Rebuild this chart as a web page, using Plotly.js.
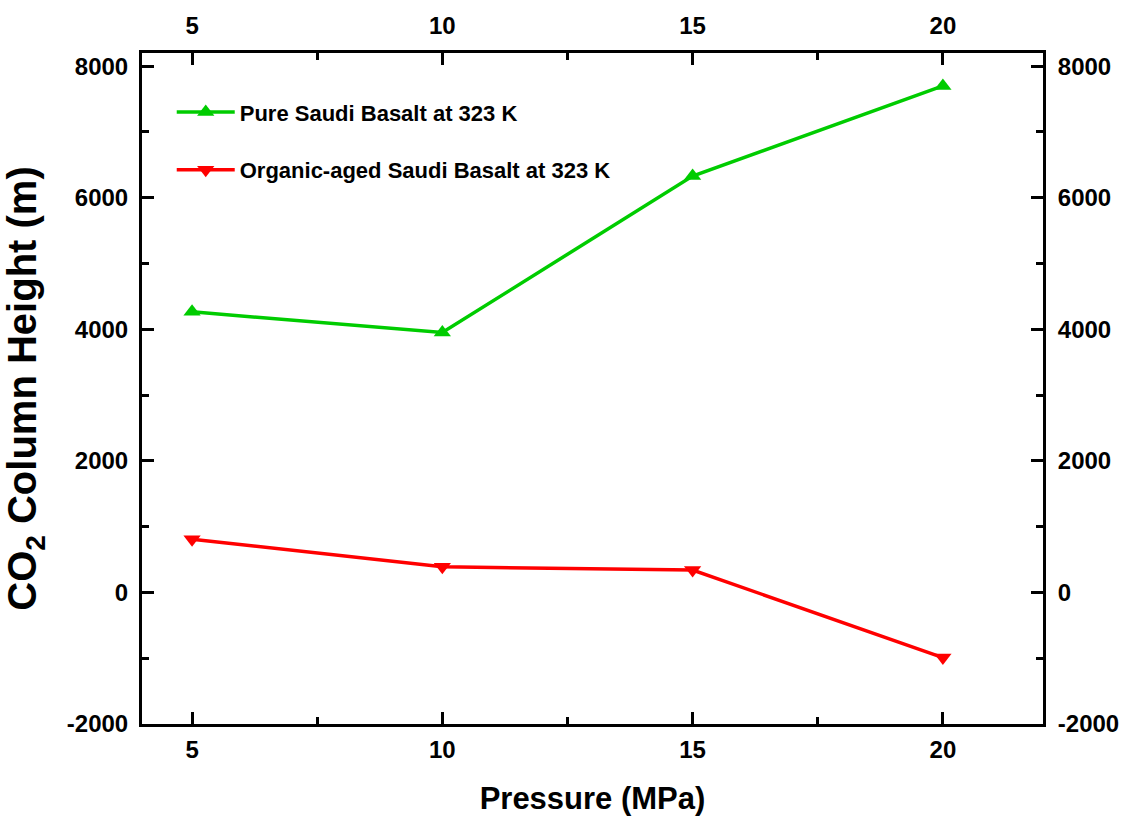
<!DOCTYPE html>
<html>
<head>
<meta charset="utf-8">
<script src="https://cdn.plot.ly/plotly-3.0.1.min.js"></script>
<style>html,body{margin:0;padding:0;background:#fff}#chart{width:1121px;height:816px}</style>
</head>
<body>
<div id="chart"></div>
<script>
const pressure = [5, 10, 15, 20];
const pureBasalt = [4265, 3950, 6330, 7700];
const organicBasalt = [810, 390, 340, -990];
const seriesNames = ['Pure Saudi Basalt at 323 K', 'Organic-aged Saudi Basalt at 323 K'];
const xTickVals = [5, 10, 15, 20];
const yTickVals = [-2000, 0, 2000, 4000, 6000, 8000];

const FONT = 'Liberation Sans, Arial, sans-serif';
const tickFont = {family: FONT, size: 24, color: '#000', weight: 'bold'};

const traces = [
  {x: pressure, y: pureBasalt, name: seriesNames[0], mode: 'lines+markers', legendgroup: 'a',
   line: {color: '#00cc00', width: 3.5}, marker: {symbol: 'triangle-up', size: 15, color: '#00cc00'}},
  {x: pressure, y: organicBasalt, name: seriesNames[1], mode: 'lines+markers', legendgroup: 'b',
   line: {color: '#ff0000', width: 3.5}, marker: {symbol: 'triangle-down', size: 15, color: '#ff0000'}}
];

const axCommon = {
  showline: true, linecolor: '#000', linewidth: 3, ticks: 'inside', ticklen: 12, tickwidth: 3,
  tickcolor: '#000', showgrid: false, zeroline: false, tickfont: tickFont
};

const layout = {
  width: 1121, height: 816,
  margin: {l: 142, r: 78, t: 53, b: 92},
  paper_bgcolor: '#fff', plot_bgcolor: '#fff',
  showlegend: true,
  legend: {x: 0.033, y: 0.943, xanchor: 'left', yanchor: 'top', bgcolor: 'rgba(0,0,0,0)',
           font: {family: FONT, size: 22, color: '#000', weight: 'bold'},
           traceorder: 'grouped', tracegroupgap: 26, itemwidth: 58},
  xaxis: Object.assign({}, axCommon, {
    range: [4, 22], tickvals: xTickVals, ticktext: xTickVals.map(String), ticklabelstandoff: 2,
    minor: {ticks: 'inside', ticklen: 7, tickwidth: 3, tickcolor: '#000', dtick: 2.5, tick0: 0},
    title: {text: 'Pressure (MPa)', font: {family: FONT, size: 31, color: '#000', weight: 'bold'}, standoff: 32}
  }),
  xaxis2: Object.assign({}, axCommon, {
    overlaying: 'x', side: 'top', matches: 'x', range: [4, 22], tickvals: xTickVals, ticktext: xTickVals.map(String),
    ticklabelstandoff: 6,
    minor: {ticks: 'inside', ticklen: 7, tickwidth: 3, tickcolor: '#000', dtick: 2.5, tick0: 0}
  }),
  yaxis: Object.assign({}, axCommon, {
    range: [-2000, 8200], tickvals: yTickVals, ticktext: yTickVals.map(String), ticklabelstandoff: 6,
    minor: {ticks: 'inside', ticklen: 7, tickwidth: 3, tickcolor: '#000', dtick: 1000, tick0: 0},
    title: {text: 'CO<sub>2</sub> Column Height (m)', font: {family: FONT, size: 40, color: '#000', weight: 'bold'}, standoff: 18}
  }),
  yaxis2: Object.assign({}, axCommon, {
    overlaying: 'y', side: 'right', matches: 'y', range: [-2000, 8200], tickvals: yTickVals, ticktext: yTickVals.map(String),
    ticklabelstandoff: 7,
    minor: {ticks: 'inside', ticklen: 7, tickwidth: 3, tickcolor: '#000', dtick: 1000, tick0: 0}
  })
};

traces.push({x: [pressure[0]], y: [pureBasalt[0]], xaxis: 'x2', yaxis: 'y2', mode: 'markers',
             marker: {opacity: 0}, showlegend: false, hoverinfo: 'skip'});

Plotly.newPlot('chart', traces, layout, {displayModeBar: false, staticPlot: true});
</script>
</body>
</html>
